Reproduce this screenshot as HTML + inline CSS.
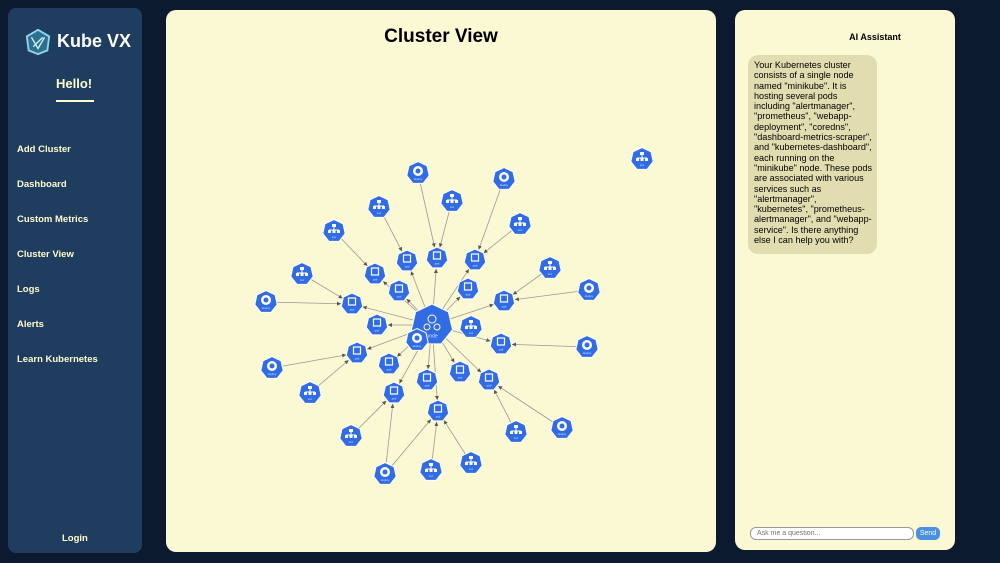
<!DOCTYPE html>
<html><head><meta charset="utf-8"><style>
body{margin:0;width:1000px;height:563px;background:#0c1a30;font-family:"Liberation Sans",sans-serif;position:relative;overflow:hidden}
#side{position:absolute;left:8px;top:8px;width:134px;height:545px;background:#1f3d5e;border-radius:8px}
#side .logo{position:absolute;left:16px;top:20px;width:28px;height:28px}
#side .brand{position:absolute;left:49px;top:23px;color:#fff;font-weight:bold;font-size:18px;white-space:nowrap}
#side .hello{position:absolute;left:48px;top:68px;color:#fffbd0;font-weight:bold;font-size:13px}
#side .bar{position:absolute;left:48px;top:92px;width:38px;height:2px;background:#fffbd0}
.nav{position:absolute;left:9px;color:#fffbd0;font-weight:bold;font-size:9.5px}
#main{position:absolute;left:166px;top:10px;width:550px;height:542px;background:#fbf8d4;border-radius:10px}
#main h1{margin:0;position:absolute;top:16px;width:100%;text-align:center;font-size:19px}
#chat{position:absolute;left:735px;top:10px;width:220px;height:540px;background:#fbf8d4;border-radius:10px}
#chat .t{position:absolute;left:0;width:220px;top:22px;text-align:center;font-weight:bold;font-size:9px;padding-left:60px;box-sizing:border-box}
#chat .msg{position:absolute;left:13px;top:45px;width:118px;height:188px;padding:5px 5px 6px 6px;background:#e2ddb0;border-radius:10px;font-size:9.1px;line-height:10.3px}
#chat input{position:absolute;left:15px;top:517px;width:150px;height:9px;border:1px solid #999;border-radius:6px;font-size:7px;padding:1px 6px;background:#fff}
#chat button{position:absolute;left:181px;top:517px;width:24px;height:13px;border:0;border-radius:5px;background:#4a90e2;color:#fff;font-size:7px;padding:0}
</style></head><body>
<div id="side">
<svg class="logo" viewBox="0 0 30 30"><polygon points="15,2 27,9 25,24 15,28 5,24 3,9" fill="#2c6f8f" stroke="#8fd4ea" stroke-width="2"/><path d="M8,10 L15,22 L22,10 M10,20 L20,10" stroke="#cfefff" stroke-width="1.5" fill="none"/></svg>
<div class="brand">Kube VX</div>
<div class="hello">Hello!</div>
<div class="bar"></div>
<div class="nav" style="top:136px">Add Cluster</div>
<div class="nav" style="top:171px">Dashboard</div>
<div class="nav" style="top:206px">Custom Metrics</div>
<div class="nav" style="top:241px">Cluster View</div>
<div class="nav" style="top:276px">Logs</div>
<div class="nav" style="top:311px">Alerts</div>
<div class="nav" style="top:346px">Learn Kubernetes</div>
<div class="nav" style="top:525px;left:54px">Login</div>
</div>
<div id="main">
<h1>Cluster View</h1>
<svg id="g" width="550" height="542" style="position:absolute;left:0;top:0">
<defs><marker id="ar" viewBox="0 0 6 6" refX="6" refY="3" markerWidth="5" markerHeight="5" orient="auto"><path d="M0,0L6,3L0,6z" fill="#555"/></marker></defs>
</svg>
</div>
<div id="chat">
<div class="t">AI Assistant</div>
<div class="msg">Your Kubernetes cluster consists of a single node named "minikube". It is hosting several pods including "alertmanager", "prometheus", "webapp-deployment", "coredns", "dashboard-metrics-scraper", and "kubernetes-dashboard", each running on the "minikube" node. These pods are associated with various services such as "alertmanager", "kubernetes", "prometheus-alertmanager", and "webapp-service". Is there anything else I can help you with?</div>
<input placeholder="Ask me a question...">
<button>Send</button>
</div>
<script>
const OX=166,OY=10;
const center=[432,325];
const podX=[407,437,475,375,399,468,352,504,377,501,357,389,427,460,489,394,438];
const podY=[261,258,260,274,291,289,304,301,325,344,353,364,380,372,380,393,411];
const outType=["dep","dep","svc","svc","svc","svc","svc","svc","dep","dep","dep","dep","svc","svc","svc","dep","dep","dep","svc","svc","svc","dep","svc"];
const outX=[418,504,379,452,334,520,302,550,266,589,272,587,310,351,516,562,385,385,431,471,471,417,642];
const outY=[173,179,207,201,231,224,274,268,302,290,368,347,393,436,432,428,474,474,470,463,327,340,159];
const outTarget=[1,2,0,1,3,2,6,7,6,7,10,9,10,15,14,14,15,16,16,16,-1,-1,-2];
const g=document.getElementById('g');const NS='http://www.w3.org/2000/svg';
function line(x1,y1,x2,y2,r){const dx=x2-x1,dy=y2-y1,d=Math.hypot(dx,dy);
const l=document.createElementNS(NS,'line');


l.setAttribute('x1',x1-OX);l.setAttribute('y1',y1-OY);l.setAttribute('x2',x2-OX-dx/d*r);l.setAttribute('y2',y2-OY-dy/d*r);
l.setAttribute('stroke','#999');l.setAttribute('stroke-width','0.8');l.setAttribute('marker-end','url(#ar)');g.appendChild(l);}
podX.forEach((x,i)=>line(center[0],center[1],x,podY[i],11));
outX.forEach((x,i)=>{const t=outTarget[i];if(t>=0)line(x,outY[i],podX[t],podY[t],11);});
function node(x,y,r,type,label){const gg=document.createElementNS(NS,'g');


let p=[];for(let k=0;k<7;k++){const a=-Math.PI/2+k*2*Math.PI/7;p.push((x-OX+r*Math.cos(a)).toFixed(1)+','+(y-OY+r*Math.sin(a)).toFixed(1));}
let s='<polygon points="'+p.join(' ')+'" fill="#326ce5" stroke="#fff" stroke-width="1"/>';
const cx=x-OX,cy=y-OY-2;
if(type==='pod')s+='<rect x="'+(cx-3.5)+'" y="'+(cy-4)+'" width="7" height="7" fill="none" stroke="#fff" stroke-width="1.2"/>';
else if(type==='svc')s+='<rect x="'+(cx-2)+'" y="'+(cy-5)+'" width="4" height="3" fill="#fff"/><path d="M'+(cx-5)+','+(cy+1)+'h10M'+cx+','+(cy-2)+'v3" stroke="#fff"/><rect x="'+(cx-6)+'" y="'+(cy+1)+'" width="3" height="3" fill="#fff"/><rect x="'+(cx-1.5)+'" y="'+(cy+1)+'" width="3" height="3" fill="#fff"/><rect x="'+(cx+3)+'" y="'+(cy+1)+'" width="3" height="3" fill="#fff"/>';
else if(type==='dep')s+='<circle cx="'+cx+'" cy="'+cy+'" r="5" fill="#fff"/><circle cx="'+cx+'" cy="'+cy+'" r="2.5" fill="#326ce5"/>';
else s+='<circle cx="'+cx+'" cy="'+(cy-4)+'" r="4" fill="none" stroke="#fff"/><circle cx="'+(cx-5)+'" cy="'+(cy+4)+'" r="3" fill="none" stroke="#fff"/><circle cx="'+(cx+5)+'" cy="'+(cy+4)+'" r="3" fill="none" stroke="#fff"/>';
s+='<text x="'+cx+'" y="'+(y-OY+r*0.6)+'" font-size="'+(r/4)+'" fill="#cfe0ff" text-anchor="middle" font-family="Liberation Sans">'+label+'</text>';
gg.innerHTML=s;g.appendChild(gg);}
node(center[0],center[1],21,'node','node');
podX.forEach((x,i)=>node(x,podY[i],11,'pod','pod'));
outX.forEach((x,i)=>node(x,outY[i],11.5,outType[i],outType[i]==='dep'?'deploy':'svc'));
</script>
</body></html>
